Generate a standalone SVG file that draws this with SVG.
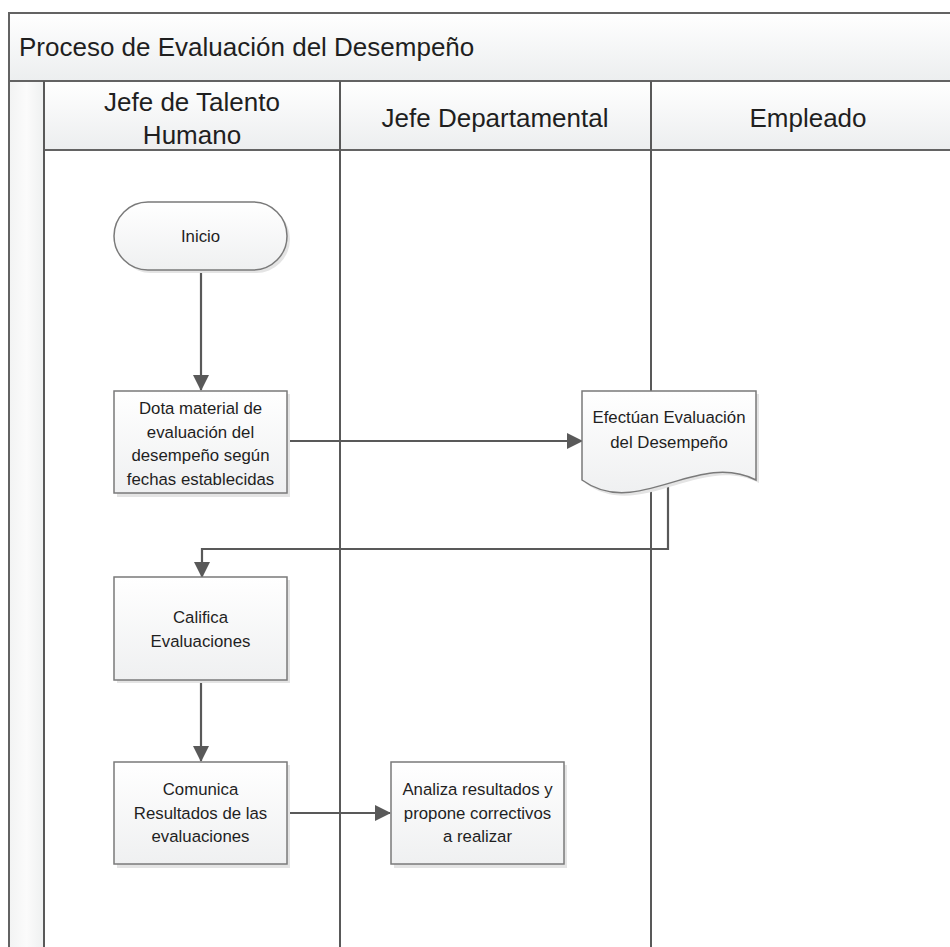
<svg xmlns="http://www.w3.org/2000/svg" width="950" height="947" viewBox="0 0 950 947">
  <defs>
    <linearGradient id="bandFill" x1="0" y1="0" x2="0" y2="1">
      <stop offset="0" stop-color="#ffffff"/>
      <stop offset="1" stop-color="#eceeef"/>
    </linearGradient>
    <linearGradient id="stripFill" x1="0" y1="0" x2="1" y2="0">
      <stop offset="0" stop-color="#f2f3f3"/>
      <stop offset="0.5" stop-color="#fbfbfb"/>
      <stop offset="1" stop-color="#eef0f0"/>
    </linearGradient>
    <linearGradient id="shapeFill" x1="0" y1="0" x2="0" y2="1">
      <stop offset="0" stop-color="#ffffff"/>
      <stop offset="1" stop-color="#eff0f1"/>
    </linearGradient>
    <marker id="arrow" viewBox="0 0 16 16" refX="15" refY="8" markerWidth="16" markerHeight="16" markerUnits="userSpaceOnUse" orient="auto">
      <path d="M0,0 L16,8 L0,16 Z" fill="#595959"/>
    </marker>
  </defs>
  <style>
    .frame { stroke: #636363; stroke-width: 2; fill: none; }
    .lane { stroke: #595959; stroke-width: 2; fill: none; }
    .title { font-family: "Liberation Sans", Arial, sans-serif; font-size: 26px; fill: #1f1f1f; }
    .head { font-family: "Liberation Sans", Arial, sans-serif; font-size: 26px; fill: #1f1f1f; text-anchor: middle; }
    .shape { fill: url(#shapeFill); stroke: #7a7a7a; stroke-width: 1.5; }
    .shadow { fill: #e4e4e4; }
    .label { font-family: "Liberation Sans", Arial, sans-serif; font-size: 16.8px; fill: #1f1f1f; text-anchor: middle; }
    .conn { stroke: #595959; stroke-width: 2.2; fill: none; }
  </style>

  <rect width="950" height="947" fill="#ffffff"/>

  <!-- pool: title band, header row and lane strip -->
  <g id="pool">
    <rect x="9" y="13" width="945" height="68" fill="url(#bandFill)"/>
    <rect x="44" y="81" width="910" height="69" fill="url(#bandFill)"/>
    <rect x="9" y="81" width="35" height="870" fill="url(#stripFill)"/>
    <text class="title" x="19" y="56">Proceso de Evaluación del Desempeño</text>
    <path class="frame" d="M9,947 V13 H952"/>
    <path class="frame" d="M9,81 H952"/>
    <path class="frame" d="M44,150 H952"/>
  </g>

  <!-- lanes -->
  <g id="lane-talento">
    <path class="lane" d="M44,81 V947"/>
    <text class="head" x="192" y="111">Jefe de Talento</text>
    <text class="head" x="192" y="144">Humano</text>
  </g>
  <g id="lane-departamental">
    <path class="lane" d="M340,81 V947"/>
    <text class="head" x="495" y="127">Jefe Departamental</text>
  </g>
  <g id="lane-empleado">
    <path class="lane" d="M651,81 V947"/>
    <text class="head" x="808" y="127">Empleado</text>
  </g>

  <!-- connectors -->
  <g id="connectors">
    <path class="conn" d="M201,270 V390" marker-end="url(#arrow)"/>
    <path class="conn" d="M287,441 H582" marker-end="url(#arrow)"/>
    <path class="conn" d="M668,480 V549 H202 V577" marker-end="url(#arrow)"/>
    <path class="conn" d="M201,680 V761" marker-end="url(#arrow)"/>
    <path class="conn" d="M287,813 H390" marker-end="url(#arrow)"/>
  </g>

  <!-- nodes -->
  <g id="inicio">
    <rect class="shadow" x="117" y="205" width="173" height="68" rx="34"/>
    <rect class="shape" x="114" y="202" width="173" height="68" rx="34"/>
    <text class="label" x="200.5" y="242">Inicio</text>
  </g>

  <g id="dota-material">
    <rect class="shadow" x="117" y="394" width="173" height="103"/>
    <rect class="shape" x="114" y="391" width="173" height="102"/>
    <text class="label" x="200.5" y="414">Dota material de</text>
    <text class="label" x="200.5" y="438">evaluación del</text>
    <text class="label" x="200.5" y="461">desempeño según</text>
    <text class="label" x="200.5" y="485">fechas establecidas</text>
  </g>

  <g id="efectuan-evaluacion">
    <path class="shadow" d="M585,394 H759 V483 C700,453 640,523 585,483 Z"/>
    <path class="shape" d="M582,391 H756 V480 C697,450 637,520 582,480 Z"/>
    <text class="label" x="669" y="423">Efectúan Evaluación</text>
    <text class="label" x="669" y="448">del Desempeño</text>
  </g>

  <g id="califica-evaluaciones">
    <rect class="shadow" x="117" y="580" width="173" height="103"/>
    <rect class="shape" x="114" y="577" width="173" height="103"/>
    <text class="label" x="200.5" y="623">Califica</text>
    <text class="label" x="200.5" y="647">Evaluaciones</text>
  </g>

  <g id="comunica-resultados">
    <rect class="shadow" x="117" y="765" width="173" height="103"/>
    <rect class="shape" x="114" y="762" width="173" height="102"/>
    <text class="label" x="200.5" y="795">Comunica</text>
    <text class="label" x="200.5" y="819">Resultados de las</text>
    <text class="label" x="200.5" y="842">evaluaciones</text>
  </g>

  <g id="analiza-resultados">
    <rect class="shadow" x="394" y="765" width="173" height="103"/>
    <rect class="shape" x="391" y="762" width="173" height="102"/>
    <text class="label" x="477.5" y="795">Analiza resultados y</text>
    <text class="label" x="477.5" y="819">propone correctivos</text>
    <text class="label" x="477.5" y="842">a realizar</text>
  </g>
</svg>
